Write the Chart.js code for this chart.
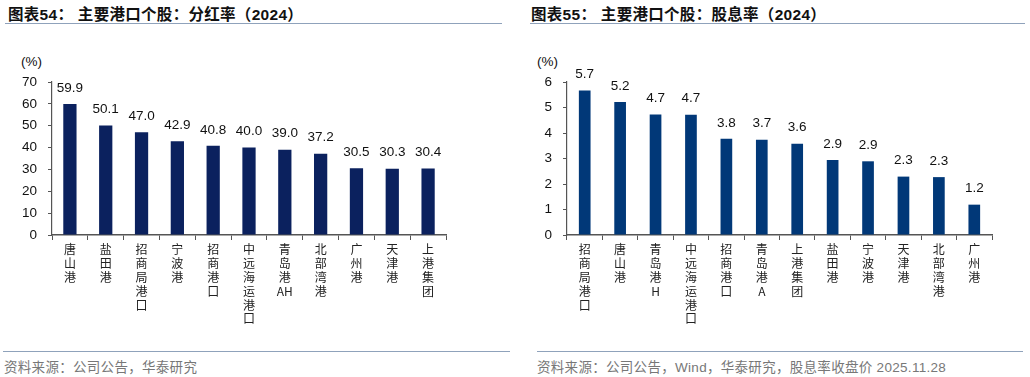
<!DOCTYPE html>
<html lang="zh">
<head>
    <title>主要港口个股</title>
    <meta charset="utf-8">
    <style>
        body { margin: 0; background: #fff; width: 1030px; height: 377px; position: relative; overflow: hidden;
               font-family: "Liberation Sans", "Noto Sans CJK SC", sans-serif; }
        .titulo { position: absolute; top: 2px; font-size: 15.5px; letter-spacing: 0.3px; font-weight: bold; color: #111;
                  font-family: "Liberation Sans", "Noto Sans CJK SC", sans-serif; white-space: nowrap; }
        .linea { position: absolute; height: 0; border-top: 1.5px solid #8fa2bb; }
        .unidad { position: absolute; top: 54px; font-size: 13.5px; color: #111; }
        .fuente { position: absolute; top: 356px; font-size: 13.5px; letter-spacing: 0.3px; color: #777; white-space: nowrap;
                  font-family: "Liberation Sans Narrow", "Liberation Sans", "Noto Sans CJK SC", sans-serif; }
        .panel { position: absolute; top: 40px; height: 300px; }
    </style>
</head>
<body>
    <div class="titulo" style="left:8px;">图表54：&nbsp;主要港口个股：分红率（2024）</div>
    <div class="linea" style="left:5px; width:497px; top:23px;"></div>
    <div class="unidad" style="left:21px;">(%)</div>
    <div class="panel" style="left:0; width:510px;"><canvas id="payoutChart"></canvas></div>
    <div class="linea" style="left:3px; width:507px; top:351px;"></div>
    <div class="fuente" style="left:4px;">资料来源：公司公告，华泰研究</div>

    <div class="titulo" style="left:531px;">图表55：&nbsp;主要港口个股：股息率（2024）</div>
    <div class="linea" style="left:530px; width:495px; top:23px;"></div>
    <div class="unidad" style="left:537px;">(%)</div>
    <div class="panel" style="left:515px; width:515px;"><canvas id="yieldChart"></canvas></div>
    <div class="linea" style="left:537px; width:486px; top:351px;"></div>
    <div class="fuente" style="left:537px;">资料来源：公司公告，Wind，华泰研究，股息率收盘价 2025.11.28</div>

    <script src="https://cdn.jsdelivr.net/npm/chart.js"></script>
    <script>
        // 分红率 (2024)
        const payoutLabels = ['唐山港', '盐田港', '招商局港口', '宁波港', '招商港口', '中远海运港口', '青岛港AH', '北部湾港', '广州港', '天津港', '上港集团'];
        const payoutValues = [59.9, 50.1, 47.0, 42.9, 40.8, 40.0, 39.0, 37.2, 30.5, 30.3, 30.4];
        const payoutTicks = [0, 10, 20, 30, 40, 50, 60, 70];

        // 股息率 (2024)
        const yieldLabels = ['招商局港口', '唐山港', '青岛港H', '中远海运港口', '招商港口', '青岛港A', '上港集团', '盐田港', '宁波港', '天津港', '北部湾港', '广州港'];
        const yieldValues = [5.67, 5.22, 4.73, 4.72, 3.77, 3.74, 3.58, 2.94, 2.89, 2.29, 2.27, 1.19];
        const yieldTicks = [0, 1, 2, 3, 4, 5, 6];

        // una letra por linea, las letras latinas juntas
        function vertical(s) {
            return s.match(/[A-Za-z]+|./g);
        }

        const valueLabels = {
            id: 'valueLabels',
            afterDatasetsDraw(chart) {
                const ctx = chart.ctx;
                ctx.save();
                ctx.font = '13.5px "Liberation Sans", Arial, sans-serif';
                ctx.fillStyle = '#111';
                ctx.textAlign = 'center';
                ctx.textBaseline = 'middle';
                chart.getDatasetMeta(0).data.forEach((bar, i) => {
                    const v = chart.data.datasets[0].data[i];
                    ctx.fillText(v.toFixed(1), bar.x, bar.y - 16);
                });
                ctx.restore();
            }
        };

        function makeChart(id, labels, values, ticks, color, padRight, barPct) {
            const ctx = document.getElementById(id).getContext('2d');
            return new Chart(ctx, {
                type: 'bar',
                data: {
                    labels: labels.map(vertical),
                    datasets: [{
                        data: values,
                        backgroundColor: color,
                        categoryPercentage: 1,
                        barPercentage: barPct
                    }]
                },
                options: {
                    responsive: true,
                    maintainAspectRatio: false,
                    animation: false,
                    events: [],
                    layout: { padding: { top: 42, right: padRight, bottom: 0, left: 0 } },
                    plugins: { legend: { display: false }, tooltip: { enabled: false } },
                    scales: {
                        x: {
                            grid: { drawOnChartArea: false, drawTicks: true, tickLength: 5, color: '#555', offset: true },
                            border: { color: '#555', width: 1.5 },
                            ticks: {
                                autoSkip: false, maxRotation: 0, minRotation: 0, padding: 3,
                                color: '#222',
                                font: { family: '"Noto Sans CJK SC", sans-serif', size: 12, lineHeight: 1.15 }
                            },
                            afterFit: (s) => { s.height = 105; }
                        },
                        y: {
                            min: ticks[0],
                            max: ticks[ticks.length - 1],
                            afterBuildTicks: (s) => { s.ticks = ticks.map(v => ({ value: v })); },
                            grid: { drawOnChartArea: false, drawTicks: true, tickLength: 4, color: '#555' },
                            border: { color: '#555', width: 1.2 },
                            ticks: {
                                padding: 11, color: '#111',
                                font: { family: '"Liberation Sans", Arial, sans-serif', size: 13.5 }
                            },
                            afterFit: (s) => { s.width = 52; }
                        }
                    }
                },
                plugins: [valueLabels]
            });
        }

        document.addEventListener('DOMContentLoaded', function() {
            makeChart('payoutChart', payoutLabels, payoutValues, payoutTicks, '#0b215e', 64, 0.37);
            makeChart('yieldChart', yieldLabels, yieldValues, yieldTicks, '#013878', 38, 0.33);
        });
    </script>
</body>
</html>
